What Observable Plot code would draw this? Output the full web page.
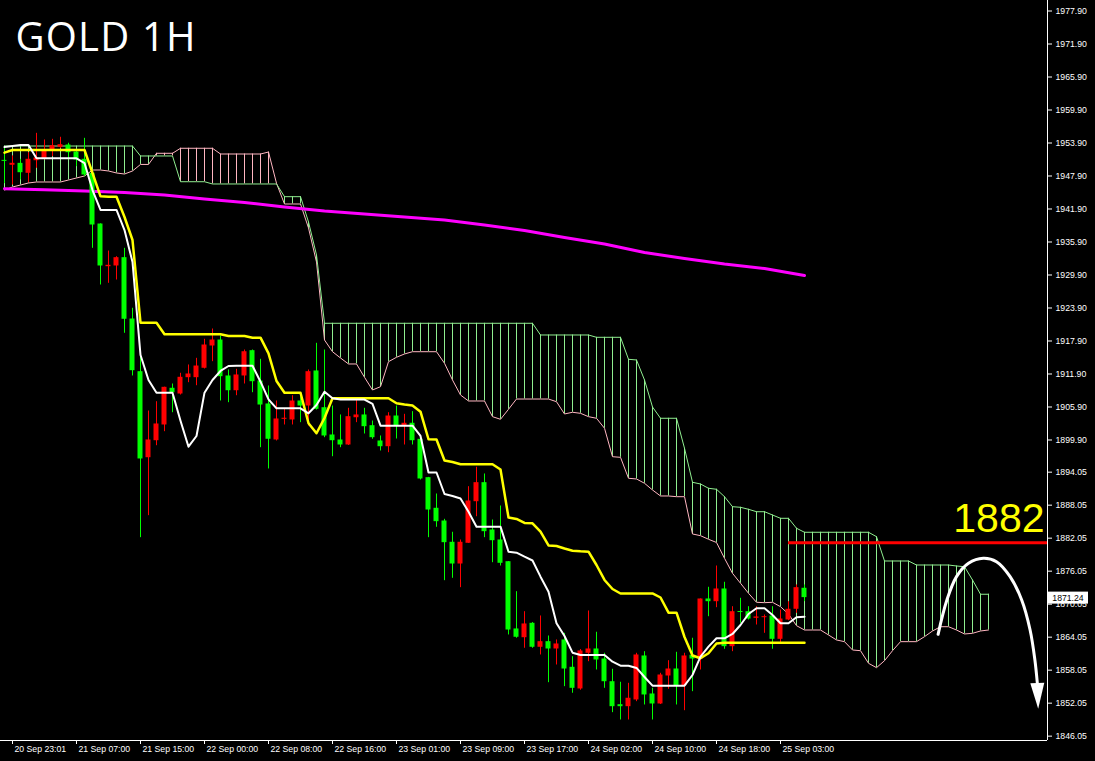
<!DOCTYPE html>
<html><head><meta charset="utf-8">
<script src="https://cdn.jsdelivr.net/npm/d3@7"></script>
<script src="https://cdn.jsdelivr.net/npm/@observablehq/plot@0.6"></script>
<style>
html,body{margin:0;padding:0;background:#000;overflow:hidden;}
#chart{width:1095px;height:761px;}
</style></head><body><div id="chart"></div>
<script>
// ---- Data (hourly bars, index 0 = first visible bar) ----
const open = [
1950.7,1949.85,1950.2,1948.39,1950.68,1951.05,1952.5,1953.12,1953.54,1952.26,
1950.94,1948.39,1939.17,1931.41,1931.54,1933.05,1921.9,1912.32,1896.68,1899.77,
1902.63,1909.3,1908.26,1911.23,1911.23,1912.94,1916.99,1918.08,1911.54,1908.86,
1911.54,1916.14,1910.63,1906.45,1899.9,1903.66,1903.54,1906.99,1906.08,1912.45,
1905.77,1900.81,1899.9,1898.99,1903.95,1904.45,1902.5,1899.72,1898.68,1904.26,
1902.5,1902.94,1900.03,1893.05,1887.48,1885.17,1881.3,1877.35,1881.12,1888.68,
1892.14,1883.54,1881.72,1877.77,1865.54,1863.95,1866.57,1862.21,1863.23,1861.9,
1863.54,1858.57,1854.63,1861.12,1861.9,1860.08,1855.95,1851.77,1851.41,1852.63,
1860.63,1853.72,1851.9,1856.99,1858.26,1855.23,1860.75,1860.08,1870.99,1870.5,
1872.81,1862.32,1868.68,1868.68,1867.48,1867.59,1867.9,1863.66,1867.17,1869.12,
1872.94];
const high = [
1953.0,1951.55,1950.94,1952.14,1955.66,1954.45,1954.57,1954.94,1953.85,1952.75,
1954.75,1948.45,1939.2,1934.26,1933.23,1934.75,1923.85,1915.05,1905.17,1906.86,
1909.5,1910.08,1912.03,1913.54,1914.75,1918.21,1920.08,1918.81,1912.63,1912.75,
1916.26,1916.26,1914.57,1909.72,1906.99,1905.48,1907.95,1907.77,1912.63,1917.48,
1916.26,1906.08,1904.45,1905.66,1907.17,1905.66,1903.35,1900.63,1904.86,1906.08,
1904.57,1905.05,1900.1,1893.1,1890.08,1885.48,1883.12,1881.72,1891.41,1894.94,
1893.72,1885.35,1887.9,1877.8,1872.32,1868.68,1866.7,1867.9,1864.26,1863.54,
1864.75,1860.5,1861.8,1868.81,1864.94,1861.12,1858.21,1855.85,1855.66,1861.12,
1861.41,1854.75,1857.48,1859.77,1861.3,1861.12,1863.85,1871.0,1873.12,1876.99,
1874.03,1869.59,1871.12,1869.59,1869.59,1868.08,1869.59,1868.99,1870.5,1873.54,
1873.54];
const low = [
1946.5,1946.25,1947.17,1946.68,1949.3,1950.81,1951.41,1952.86,1950.81,1949.59,
1947.77,1934.75,1928.08,1928.39,1928.99,1919.3,1911.54,1882.14,1886.14,1898.86,
1901.41,1904.86,1908.08,1910.32,1909.77,1912.81,1914.14,1906.99,1906.68,1907.95,
1910.08,1908.5,1898.5,1894.63,1899.72,1902.63,1902.63,1903.05,1902.45,1905.35,
1900.32,1896.86,1898.5,1898.9,1903.05,1900.99,1900.03,1897.9,1897.59,1900.08,
1898.99,1898.99,1892.63,1882.14,1884.03,1874.32,1874.75,1873.05,1881.1,1885.95,
1882.14,1877.59,1876.99,1864.45,1863.85,1862.03,1862.03,1860.81,1855.77,1858.99,
1855.05,1853.85,1854.4,1859.59,1858.08,1854.75,1850.32,1848.99,1848.99,1852.32,
1851.72,1848.99,1851.8,1854.57,1851.72,1850.68,1854.14,1858.08,1867.77,1869.41,
1861.85,1861.41,1866.57,1867.17,1866.26,1864.75,1861.85,1862.94,1867.05,1868.39,
1870.5];
const close = [
1950.6,1950.21,1948.5,1950.94,1951.17,1952.63,1953.41,1953.59,1952.14,1950.81,
1948.08,1938.99,1931.54,1931.66,1933.05,1921.85,1912.5,1896.45,1899.9,1902.81,
1909.48,1908.5,1911.3,1911.9,1913.35,1917.17,1918.08,1911.41,1908.86,1911.72,
1915.95,1910.5,1906.26,1900.03,1903.72,1903.85,1906.99,1906.08,1912.32,1905.48,
1900.63,1899.77,1898.99,1904.14,1904.45,1902.32,1900.32,1898.68,1904.26,1902.5,
1902.94,1899.77,1892.81,1887.17,1885.05,1881.23,1877.35,1881.3,1888.81,1892.14,
1883.23,1881.59,1877.48,1865.35,1864.03,1866.45,1862.21,1863.23,1861.9,1862.81,
1858.26,1854.75,1861.54,1861.9,1859.9,1855.95,1851.41,1851.41,1852.94,1860.81,
1853.54,1851.9,1857.17,1858.26,1855.23,1860.63,1860.08,1870.99,1870.5,1872.81,
1862.32,1868.68,1868.57,1867.35,1867.72,1867.77,1863.66,1867.35,1869.12,1873.05,
1871.24];
// Ichimoku
const tenkan = [
1953.17,1953.35,1953.54,1953.54,1951.12,1951.12,1951.12,1951.12,1951.12,1951.12,
1950.26,1945.35,1941.72,1941.72,1941.72,1938.08,1932.26,1915.35,1910.81,1908.5,
1908.5,1908.5,1903.41,1898.68,1900.63,1908.5,1910.81,1912.45,1913.35,1913.41,
1913.41,1913.41,1910.5,1907.3,1905.66,1905.66,1905.66,1905.66,1904.75,1906.26,
1908.68,1907.48,1907.26,1907.26,1907.26,1907.26,1906.45,1902.5,1902.5,1902.5,
1902.5,1902.5,1900.63,1893.99,1893.99,1890.08,1889.72,1889.26,1886.86,1884.14,
1884.14,1884.14,1884.14,1879.59,1879.41,1878.68,1877.99,1875.05,1872.32,1866.57,
1864.26,1861.23,1860.81,1860.81,1860.81,1860.81,1859.59,1858.86,1858.86,1858.45,
1856.81,1855.23,1855.23,1855.23,1855.23,1855.23,1857.17,1860.5,1862.32,1863.85,
1863.85,1864.63,1866.26,1868.26,1869.3,1869.3,1868.08,1866.57,1866.57,1867.66,
1867.77];
const kijun = [
1952.14,1952.63,1952.63,1952.63,1952.63,1952.63,1952.63,1952.63,1952.63,1952.63,
1952.63,1948.45,1944.21,1944.14,1944.14,1940.45,1936.26,1921.23,1921.23,1921.23,
1919.12,1919.12,1919.12,1919.12,1919.12,1919.12,1919.12,1919.12,1918.81,1918.81,
1918.81,1918.5,1918.5,1915.66,1910.63,1908.5,1908.5,1908.5,1902.94,1901.12,
1903.9,1907.48,1907.48,1907.48,1907.48,1907.48,1907.48,1907.48,1907.48,1906.57,
1906.35,1906.17,1905.05,1900.03,1899.99,1896.17,1895.9,1895.48,1895.48,1895.48,
1895.48,1895.48,1894.54,1885.81,1885.54,1884.81,1884.75,1883.23,1880.72,1880.63,
1880.17,1879.77,1879.66,1879.59,1877.17,1874.45,1872.81,1871.99,1871.99,1871.99,
1871.99,1871.99,1871.26,1868.5,1868.5,1864.08,1860.72,1860.21,1861.12,1862.9,
1863.05,1863.05,1863.05,1863.05,1863.05,1863.05,1863.05,1863.05,1863.05,1863.05,
1863.05];
const spanA = [
1953.35,1953.35,1953.35,1953.35,1953.35,1953.35,1953.35,1953.35,1953.35,1953.35,
1953.35,1953.35,1953.35,1953.35,1953.35,1953.35,1953.35,1951.54,1951.54,1951.54,
1951.54,1951.54,1946.86,1946.86,1946.86,1946.86,1946.45,1946.45,1946.45,1946.45,
1946.45,1946.45,1946.45,1946.45,1946.45,1944.14,1944.14,1944.14,1939.54,1933.54,
1921.12,1921.12,1921.12,1921.12,1921.12,1921.12,1921.12,1921.12,1921.12,1921.12,
1921.12,1921.12,1921.12,1921.12,1921.12,1921.12,1921.12,1921.12,1921.12,1921.12,
1921.12,1921.12,1921.12,1921.12,1921.12,1921.12,1921.12,1918.99,1918.99,1918.99,
1918.99,1918.99,1918.99,1918.99,1918.57,1918.57,1918.57,1918.57,1914.57,1914.45,
1910.81,1905.9,1903.85,1903.85,1903.85,1898.39,1892.21,1891.9,1891.12,1890.94,
1889.59,1887.77,1887.66,1887.3,1886.86,1886.86,1886.26,1885.66,1885.66,1883.85,
1883.12,1883.12,1883.12,1883.12,1883.12,1883.12,1883.12,1883.12,1883.12,1882.32,
1877.9,1877.9,1877.9,1877.9,1877.17,1877.17,1877.17,1877.17,1877.17,1876.99,
1876.86,1874.45,1871.85,1871.85];
const spanB = [
1945.35,1945.9,1946.26,1946.63,1946.81,1946.81,1946.81,1946.81,1947.17,1947.54,
1947.9,1948.99,1948.99,1948.81,1948.45,1948.26,1948.81,1950,1950,1952.03,
1952.03,1952.03,1952.94,1952.94,1952.94,1952.94,1952.94,1951.9,1951.9,1951.9,
1951.9,1951.9,1951.9,1952.26,1946.57,1942.81,1942.81,1942.81,1938.45,1932.26,
1918.08,1915.95,1914.81,1913.72,1913.72,1911.3,1908.99,1909.59,1914.14,1914.94,
1915.54,1915.95,1915.95,1915.95,1915.95,1913.85,1910.81,1908.08,1906.99,1906.99,
1906.99,1904.14,1903.66,1905.48,1907.35,1907.35,1907.35,1907.35,1907.35,1906.86,
1904.63,1904.94,1904.75,1904.14,1903.85,1902.03,1896.86,1896.75,1892.94,1892.81,
1892.03,1890.81,1889.72,1889.72,1889.59,1889.59,1882.81,1882.5,1881.85,1881.26,
1878.39,1875.66,1873.85,1872.03,1870.39,1870.32,1870.39,1869.59,1868.26,1866.14,
1865.35,1865.35,1865.35,1864.45,1863.54,1863.23,1861.72,1861.59,1859.3,1858.5,
1859.77,1861.59,1863.23,1863.23,1863.23,1864.14,1865.17,1865.95,1865.95,1865.35,
1864.63,1864.75,1865.17,1865.35];
// moving average (magenta), read every 5 bars
const maK = [0,5,10,15,20,25,30,35,40,45,50,55,60,65,70,75,80,85,90,95,100];
const maV = [1945.59,1945.39,1945.17,1944.9,1944.45,1943.72,1943.08,1942.26,1941.54,1940.99,
  1940.45,1939.9,1938.99,1937.99,1936.72,1935.54,1933.99,1932.9,1931.9,1931.08,1929.81];
// axes
const yTicks = [1977.90,1971.90,1965.90,1959.90,1953.90,1947.90,1941.90,1935.90,1929.90,1923.90,
  1917.90,1911.90,1905.90,1899.90,1894.05,1888.05,1882.05,1876.05,1870.05,1864.05,1858.05,1852.05,1846.05];
const xTickK = [1,9,17,25,33,41,49,57,65,73,81,89,97];
const xTickLabels = ["20 Sep 23:01","21 Sep 07:00","21 Sep 15:00","22 Sep 00:00","22 Sep 08:00",
  "22 Sep 16:00","23 Sep 01:00","23 Sep 09:00","23 Sep 17:00","24 Sep 02:00","24 Sep 10:00",
  "24 Sep 18:00","25 Sep 03:00"];
// annotations
const title = "GOLD 1H";
const levelValue = 1881.2, levelStartK = 98, levelLabel = "1882";
const arrowK = [116.7,117.8,119.0,120.5,122.35,124.0,125.7,127.15,128.2,128.8,129.1];
const arrowV = [1864.57,1870.81,1875.05,1877.48,1878.39,1877.77,1875.05,1870.81,1865.35,1859.9,1855.72];
const arrowTipV = 1851.41;

// ---- Build ----
const xDomain = [-0.5, 130.375];
const yDomain = [1845.26, 1979.81];
const UP = "#ff0000", DOWN = "#00ff00", CL_UP = "#90ee90", CL_DN = "#ffb6c1";

const candles = open.map((o, i) => ({k: i, o, h: high[i], l: low[i], c: close[i]}));
const cloud = spanA.map((a, i) => ({k: i, a, b: spanB[i]}));
const ichi = tenkan.map((t, i) => ({k: i, t, kj: kijun[i]}));
const ma = maK.map((k, i) => ({k, v: maV[i]}));
const arrow = arrowK.map((k, i) => ({k, v: arrowV[i]}));
const xLabels = xTickK.map((k, i) => ({k, label: xTickLabels[i]}));
const pxPrice = (yDomain[1] - yDomain[0]) / 740; // price per pixel
const bodyLo = d => Math.abs(d.o - d.c) < pxPrice ? (d.o + d.c) / 2 - pxPrice / 2 : Math.min(d.o, d.c);
const bodyHi = d => Math.abs(d.o - d.c) < pxPrice ? (d.o + d.c) / 2 + pxPrice / 2 : Math.max(d.o, d.c);
const col = d => d.c > d.o ? UP : DOWN;
const last = arrow[arrow.length - 1];

const plot = Plot.plot({
  width: 1095, height: 761,
  marginLeft: 0, marginRight: 48, marginTop: 0, marginBottom: 21,
  style: {background: "#000", color: "#fff", fontFamily: "'Liberation Sans', Arial, sans-serif", fontSize: "8.7px"},
  x: {domain: xDomain},
  y: {domain: yDomain},
  color: {type: "identity"},
  marks: [
    Plot.ruleX(cloud, {x: "k", y1: "a", y2: "b", stroke: d => d.a >= d.b ? CL_UP : CL_DN, strokeWidth: 1}),
    Plot.line(cloud, {x: "k", y: "b", stroke: CL_DN, strokeWidth: 1}),
    Plot.line(cloud, {x: "k", y: "a", stroke: CL_UP, strokeWidth: 1}),
    Plot.line(ma, {x: "k", y: "v", stroke: "#ff00ff", strokeWidth: 3}),
    Plot.ruleX(candles, {x: "k", y1: "l", y2: "h", stroke: col, strokeWidth: 1}),
    Plot.rect(candles, {x1: d => d.k - 0.3125, x2: d => d.k + 0.3125, y1: bodyLo, y2: bodyHi, fill: col}),
    Plot.line(ichi, {x: "k", y: "kj", stroke: "#ffff00", strokeWidth: 2.5}),
    Plot.line(ichi, {x: "k", y: "t", stroke: "#ffffff", strokeWidth: 2}),
    Plot.ruleY([{v: levelValue, k: levelStartK}], {y: "v", x1: "k", x2: () => xDomain[1], stroke: "#ff0000", strokeWidth: 3}),
    Plot.text([{v: levelValue, label: levelLabel}], {y: "v", text: "label", frameAnchor: "right", textAnchor: "end",
      lineAnchor: "middle", dx: -3, dy: -24, fill: "#ffff00", fontSize: 41, fontFamily: "'Liberation Sans', Arial, sans-serif"}),
    Plot.line(arrow, {x: "k", y: "v", curve: "catmull-rom", stroke: "#ffffff", strokeWidth: 3}),
    Plot.vector([{k: last.k, v: last.v}], {x: "k", y: "v", shape: "spike", anchor: "start", rotate: 178,
      length: (last.v - arrowTipV) / pxPrice + 2, r: 7, fill: "#ffffff", stroke: "none"}),
    Plot.text([title], {text: d => d, frameAnchor: "top-left", textAnchor: "start", lineAnchor: "middle",
      dx: 15, dy: 38, fill: "#ffffff", fontSize: 40, fontFamily: "'Open Sans', sans-serif", className: "chart-title"}),
    // axes
    Plot.ruleY([yDomain[0]], {stroke: "#fff", strokeWidth: 1}),
    Plot.ruleX([xDomain[1]], {stroke: "#fff", strokeWidth: 1}),
    Plot.axisY({ticks: yTicks, anchor: "right", tickSize: 4, tickPadding: 4, tickFormat: d => d.toFixed(2), label: null}),
    Plot.axisX({ticks: xTickK, anchor: "bottom", tickSize: 4, tickFormat: () => "", label: null}),
    Plot.text(xLabels, {x: "k", text: "label", frameAnchor: "bottom", textAnchor: "start", lineAnchor: "top", dx: 2, dy: 5.5, fill: "#fff"})
  ]
});
document.getElementById("chart").appendChild(plot);
const svg = d3.select(plot);
svg.selectAll(".chart-title text, text.chart-title, g.chart-title text").attr("letter-spacing", "1.2px");

// current-price box on the price axis
const yS = plot.scale("y"), xS = plot.scale("x");
const lastPrice = close[close.length - 1];
const py = yS.apply(lastPrice), px = xS.apply(xDomain[1]);
svg.append("rect").attr("x", px + 1).attr("y", py - 5.5).attr("width", 40).attr("height", 12).attr("fill", "#fff");
svg.append("text").attr("x", px + 21).attr("y", py + 4).attr("text-anchor", "middle")
  .attr("fill", "#000").attr("font-size", "8.7px").attr("font-family", "'Liberation Sans', Arial, sans-serif")
  .text(lastPrice.toFixed(2));
</script></body></html>
